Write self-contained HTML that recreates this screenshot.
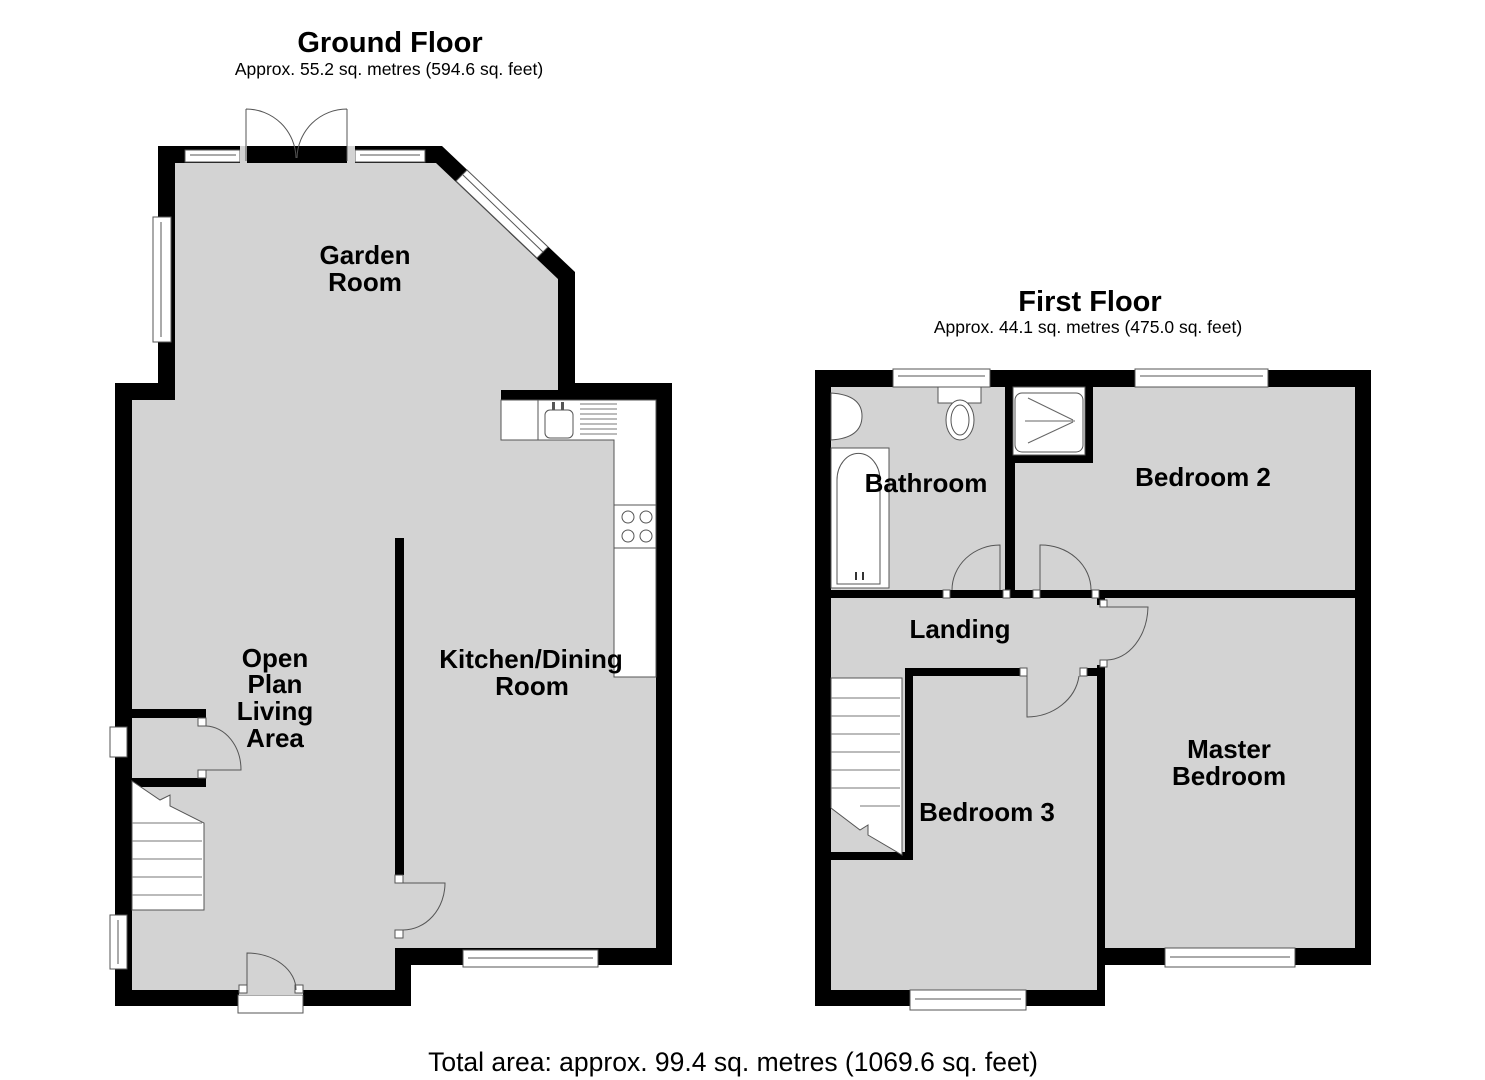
<!DOCTYPE html>
<html><head><meta charset="utf-8"><style>
html,body{margin:0;padding:0;background:#fff;}
svg{display:block;}
text{font-family:"Liberation Sans",Arial,sans-serif;}
.b{font-weight:bold;font-size:26px;fill:#000;}
</style></head><body>
<svg width="1485" height="1080" viewBox="0 0 1485 1080" xmlns="http://www.w3.org/2000/svg">
<rect width="1485" height="1080" fill="#fff"/>
<!-- Titles -->
<text x="390" y="52" text-anchor="middle" font-weight="bold" font-size="29">Ground Floor</text>
<text x="389" y="75" text-anchor="middle" font-size="17.5">Approx. 55.2 sq. metres (594.6 sq. feet)</text>
<text x="1090" y="311" text-anchor="middle" font-weight="bold" font-size="29">First Floor</text>
<text x="1088" y="333" text-anchor="middle" font-size="17.5">Approx. 44.1 sq. metres (475.0 sq. feet)</text>
<text x="733" y="1071" text-anchor="middle" font-size="26.5">Total area: approx. 99.4 sq. metres (1069.6 sq. feet)</text>

<!-- GROUND FLOOR -->
<polygon points="158,146 442,146 575,272 575,383 672,383 672,965 411,965 411,1006 115,1006 115,383 158,383" fill="#000"/>
<polygon points="175,163 436,163 558,279 558,390 501,390 501,400 656,400 656,948 395,948 395,990 132,990 132,400 175,400" fill="#d3d3d3"/>
<!-- worktop -->
<path d="M501,400 H656 V677 H614 V440 H501 Z" fill="#fff" stroke="#555" stroke-width="1"/>
<line x1="538" y1="400" x2="538" y2="440" stroke="#555"/>
<rect x="545" y="410" width="28" height="28" rx="5" fill="#fff" stroke="#555"/>
<g stroke="#777"><line x1="580" y1="404" x2="617" y2="404"/><line x1="580" y1="409" x2="617" y2="409"/><line x1="580" y1="414" x2="617" y2="414"/><line x1="580" y1="419" x2="617" y2="419"/><line x1="580" y1="424" x2="617" y2="424"/><line x1="580" y1="429" x2="617" y2="429"/><line x1="580" y1="434" x2="617" y2="434"/></g>
<rect x="552" y="402" width="3" height="8" fill="#555"/><rect x="561" y="402" width="3" height="8" fill="#555"/>
<line x1="614" y1="505" x2="656" y2="505" stroke="#555"/><line x1="614" y1="548" x2="656" y2="548" stroke="#555"/>
<g fill="none" stroke="#555"><circle cx="628" cy="517" r="6"/><circle cx="646" cy="517" r="6"/><circle cx="628" cy="536" r="6"/><circle cx="646" cy="536" r="6"/></g>
<!-- partition -->
<rect x="395" y="538" width="9" height="337" fill="#000"/>
<rect x="395" y="875" width="8" height="8" fill="#fff" stroke="#555"/>
<rect x="395" y="930" width="8" height="8" fill="#fff" stroke="#555"/>
<path d="M403,883 H445 A42,47 0 0 1 403,930" fill="none" stroke="#555"/>
<!-- cupboard -->
<rect x="132" y="709" width="74" height="9" fill="#000"/>
<rect x="132" y="778" width="74" height="9" fill="#000"/>
<rect x="198" y="718" width="8" height="8" fill="#fff" stroke="#555"/>
<rect x="198" y="770" width="8" height="8" fill="#fff" stroke="#555"/>
<path d="M206,726 A36,44 0 0 1 241,770 H206" fill="none" stroke="#555"/>
<!-- stairs -->
<path d="M132,781 L160,800 L170,795 L170,806 L204,823 V910 H132 Z" fill="#fff" stroke="#555"/>
<g stroke="#777"><line x1="132" y1="823" x2="202" y2="823"/><line x1="132" y1="841" x2="202" y2="841"/><line x1="132" y1="859" x2="202" y2="859"/><line x1="132" y1="877" x2="202" y2="877"/><line x1="132" y1="895" x2="202" y2="895"/></g>
<!-- windows ground -->
<g fill="#fff" stroke="#555" stroke-width="1">
<rect x="185" y="150" width="55" height="12"/><line x1="190" y1="155" x2="236" y2="155"/>
<rect x="355" y="150" width="70" height="12"/><line x1="360" y1="155" x2="420" y2="155"/>
<rect x="153" y="217" width="18" height="125"/><line x1="161" y1="222" x2="161" y2="337"/>
<rect x="110" y="727" width="17" height="30"/>
<rect x="110" y="915" width="17" height="54"/><line x1="118" y1="920" x2="118" y2="964"/>
<rect x="463" y="950" width="135" height="17"/><line x1="468" y1="958" x2="593" y2="958"/>
<rect x="238" y="995" width="65" height="18"/>
<polygon points="467,170 548,247 537,258 456,181"/>
<line x1="463" y1="175" x2="543" y2="252"/>
</g>
<rect x="240" y="146" width="7" height="17" fill="#d3d3d3"/>
<rect x="347" y="146" width="8" height="17" fill="#d3d3d3"/>
<path d="M246,109 V161 M246,109 A50,50 0 0 1 296,158 M347,109 V161 M347,109 A50,50 0 0 0 297,158" fill="none" stroke="#555"/>
<rect x="239" y="990" width="64" height="5" fill="#d3d3d3"/>
<rect x="239" y="985" width="8" height="8" fill="#fff" stroke="#555"/>
<rect x="295" y="985" width="8" height="8" fill="#fff" stroke="#555"/>
<path d="M247,990 V953 A49,37 0 0 1 296,990" fill="none" stroke="#555"/>

<!-- FIRST FLOOR -->
<polygon points="815,370 1371,370 1371,965 1105,965 1105,1006 815,1006" fill="#000"/>
<rect x="831" y="387" width="174" height="203" fill="#d3d3d3"/>
<rect x="1093" y="387" width="262" height="203" fill="#d3d3d3"/>
<rect x="1015" y="462" width="80" height="128" fill="#d3d3d3"/>
<rect x="831" y="598" width="524" height="70" fill="#d3d3d3"/>
<rect x="1105" y="598" width="250" height="350" fill="#d3d3d3"/>
<rect x="913" y="676" width="184" height="314" fill="#d3d3d3"/>
<rect x="831" y="668" width="74" height="322" fill="#d3d3d3"/>
<rect x="831" y="860" width="82" height="130" fill="#d3d3d3"/>
<rect x="1027" y="668" width="53" height="8" fill="#d3d3d3"/>
<rect x="1097" y="605" width="8" height="60" fill="#d3d3d3"/>
<!-- internal walls -->
<rect x="831" y="590" width="116" height="8" fill="#000"/>
<rect x="1005" y="455" width="10" height="143" fill="#000"/>
<rect x="1005" y="590" width="30" height="8" fill="#000"/>
<rect x="1005" y="455" width="88" height="8" fill="#000"/>
<rect x="1085" y="387" width="8" height="76" fill="#000"/>
<rect x="1097" y="590" width="258" height="8" fill="#000"/>
<rect x="1097" y="590" width="8" height="15" fill="#000"/>
<rect x="1097" y="665" width="8" height="300" fill="#000"/>
<rect x="905" y="668" width="122" height="8" fill="#000"/>
<rect x="1080" y="668" width="25" height="8" fill="#000"/>
<rect x="905" y="668" width="8" height="192" fill="#000"/>
<rect x="831" y="852" width="82" height="8" fill="#000"/>
<!-- door posts -->
<g fill="#fff" stroke="#555">
<rect x="943" y="590" width="7" height="8"/><rect x="1003" y="590" width="7" height="8"/>
<rect x="1033" y="590" width="7" height="8"/><rect x="1092" y="590" width="7" height="8"/>
<rect x="1100" y="600" width="7" height="7"/><rect x="1100" y="660" width="7" height="7"/>
<rect x="1020" y="668" width="7" height="8"/><rect x="1080" y="668" width="7" height="8"/>
</g>
<path d="M952,590 A48,45 0 0 1 1000,545 V590" fill="none" stroke="#555"/>
<path d="M1040,590 V545 A50,45 0 0 1 1091,590" fill="none" stroke="#555"/>
<path d="M1107,607 H1148 A42,55 0 0 1 1107,660" fill="none" stroke="#555"/>
<path d="M1027,676 V717 A53,47 0 0 0 1079,676" fill="none" stroke="#555"/>
<!-- fixtures -->
<g fill="#fff" stroke="#555">
<rect x="1013" y="387" width="72" height="68"/>
<rect x="1015" y="393" width="68" height="59" rx="7"/>
<rect x="831" y="448" width="58" height="140"/>
<path d="M837,584 V480 A21,26 0 0 1 880,480 V584 Z"/>
<rect x="938" y="387" width="43" height="16"/>
<ellipse cx="960" cy="420" rx="14" ry="20"/>
<ellipse cx="960" cy="420" rx="9" ry="15"/>
<path d="M831,393 Q862,395 862,416 Q862,438 831,440 Z"/>
</g>
<g stroke="#666" fill="none"><line x1="1025" y1="421" x2="1075" y2="421"/><line x1="1028" y1="398" x2="1073" y2="420"/><line x1="1028" y1="443" x2="1073" y2="422"/></g>
<rect x="855" y="572" width="2" height="8" fill="#333"/><rect x="862" y="572" width="2" height="8" fill="#333"/>
<!-- stairs first -->
<path d="M831,678 H902 V855 L868,835 L868,825 L860,830 L831,808 Z" fill="#fff" stroke="#555"/>
<g stroke="#777"><line x1="831" y1="698" x2="900" y2="698"/><line x1="831" y1="716" x2="900" y2="716"/><line x1="831" y1="734" x2="900" y2="734"/><line x1="831" y1="752" x2="900" y2="752"/><line x1="831" y1="770" x2="900" y2="770"/><line x1="831" y1="788" x2="900" y2="788"/><line x1="860" y1="806" x2="900" y2="806"/></g>
<!-- windows first -->
<g fill="#fff" stroke="#555">
<rect x="893" y="369" width="97" height="18"/><line x1="898" y1="376" x2="985" y2="376"/>
<rect x="1135" y="369" width="133" height="18"/><line x1="1140" y1="376" x2="1263" y2="376"/>
<rect x="1165" y="948" width="130" height="19"/><line x1="1170" y1="957" x2="1290" y2="957"/>
<rect x="910" y="990" width="116" height="20"/><line x1="915" y1="999" x2="1021" y2="999"/>
</g>

<!-- Labels -->
<g class="b" text-anchor="middle">
<text x="365" y="264">Garden</text><text x="365" y="291">Room</text>
<text x="275" y="667">Open</text><text x="275" y="693">Plan</text><text x="275" y="720">Living</text><text x="275" y="747">Area</text>
<text x="531" y="668">Kitchen/Dining</text><text x="532" y="695">Room</text>
<text x="926" y="492">Bathroom</text>
<text x="1203" y="486">Bedroom 2</text>
<text x="960" y="638">Landing</text>
<text x="1229" y="758">Master</text><text x="1229" y="785">Bedroom</text>
<text x="987" y="821">Bedroom 3</text>
</g>
</svg>
</body></html>
